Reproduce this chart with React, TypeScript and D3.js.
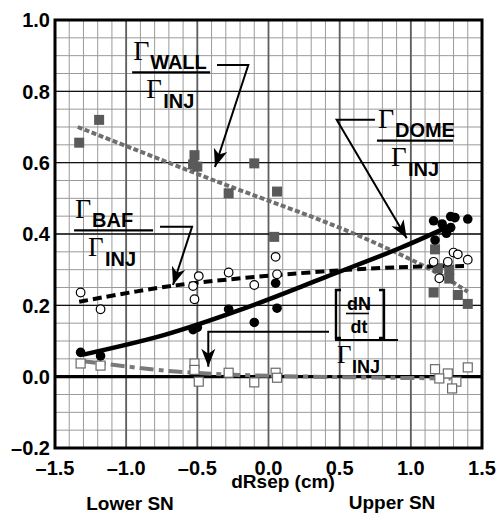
import React from "react";
import * as d3 from "d3";

// values
const wallX = [-1.33, -1.19, -0.52, -0.5, -0.53, -0.28, -0.1, 0.06, 0.04, 1.17, 1.19, 1.27, 1.27, 1.16, 1.33, 1.4];
const wallY = [0.656, 0.72, 0.621, 0.589, 0.595, 0.514, 0.598, 0.519, 0.392, 0.357, 0.304, 0.3, 0.275, 0.236, 0.229, 0.204];

const bafX = [-1.32, -1.18, -0.49, -0.53, -0.52, -0.28, -0.1, 0.05, 0.06, 1.16, 1.3, 1.33, 1.4, 1.26, 1.2];
const bafY = [0.236, 0.189, 0.282, 0.254, 0.217, 0.292, 0.257, 0.336, 0.287, 0.322, 0.348, 0.343, 0.328, 0.322, 0.276];

const domeX = [-1.32, -1.18, -0.53, -0.5, -0.28, -0.1, 0.05, 0.06, 1.16, 1.22, 1.28, 1.31, 1.4, 1.28, 1.25, 1.17];
const domeY = [0.068, 0.058, 0.132, 0.138, 0.189, 0.152, 0.262, 0.192, 0.437, 0.428, 0.449, 0.446, 0.442, 0.418, 0.402, 0.383];

const dndtX = [-1.32, -1.18, -0.52, -0.52, -0.49, -0.28, -0.1, 0.05, 0.06, 1.17, 1.26, 1.4, 1.2, 1.32, 1.29];
const dndtY = [0.037, 0.031, 0.037, 0.019, -0.014, 0.011, -0.016, 0.011, -0.003, 0.021, 0.009, 0.026, -0.005, -0.014, -0.033];

// fitted curves
const wallFitX = [-1.34, -0.38, 0.57, 1.17, 1.4];
const wallFitY = [0.7, 0.55, 0.406, 0.294, 0.238];
const domeFitX = [-1.31, -0.73, -0.2, 0.4, 0.92, 1.26];
const domeFitY = [0.061, 0.117, 0.187, 0.279, 0.36, 0.42];
const bafFitX = [-1.33, -0.67, 0.22, 0.92, 1.4];
const bafFitY = [0.21, 0.255, 0.29, 0.307, 0.31];
const dndtFitX = [-1.31, -0.73, -0.27, 0.3, 1.28];
const dndtFitY = [0.044, 0.017, 0.006, 0.0, -0.005];

const xTicks = [-1.5, -1.0, -0.5, 0.0, 0.5, 1.0, 1.5];
const xTickLabels = ["–1.5", "–1.0", "–0.5", "0.0", "0.5", "1.0", "1.5"];
const yTicks = [-0.2, 0.0, 0.2, 0.4, 0.6, 0.8, 1.0];
const yTickLabels = ["–0.2", "0.0", "0.2", "0.4", "0.6", "0.8", "1.0"];

// annotation pointers in data units: [x, y] polylines ending at the arrow tip
const wallPointer = [[-0.362, 0.874], [-0.142, 0.874], [-0.376, 0.588]];
const domePointer = [[0.748, 0.72], [0.479, 0.72], [0.971, 0.388]];
const bafPointer = [[-0.762, 0.42], [-0.537, 0.42], [-0.671, 0.257]];
const dndtPointer = [[0.425, 0.126], [-0.423, 0.126], [-0.423, 0.028]];

const width = 500;
const height = 527;
const sans = "'Liberation Sans', Arial, Helvetica, sans-serif";
const serif = "'Liberation Serif', 'Times New Roman', serif";

const xScale = d3.scaleLinear().domain([-1.5, 1.5]).range([55, 482]);
const yScale = d3.scaleLinear().domain([-0.2, 1.0]).range([448, 20]);

const zip = (xs: number[], ys: number[]) => xs.map((x, i) => [x, ys[i]] as [number, number]);

const curve = d3
  .line<[number, number]>()
  .x((d) => xScale(d[0]))
  .y((d) => yScale(d[1]))
  .curve(d3.curveCatmullRom.alpha(0.5));

const poly = d3
  .line<number[]>()
  .x((d) => xScale(d[0]))
  .y((d) => yScale(d[1]));

const Arrow = ({ pts }: { pts: number[][] }) => {
  const n = pts.length;
  const tx = xScale(pts[n - 1][0]);
  const ty = yScale(pts[n - 1][1]);
  const px = xScale(pts[n - 2][0]);
  const py = yScale(pts[n - 2][1]);
  const ang = (Math.atan2(ty - py, tx - px) * 180) / Math.PI;
  return (
    <g>
      <path d={poly(pts.slice(0, n - 1).concat([[pts[n - 1][0], pts[n - 1][1]]])) || ""} fill="none" stroke="#000" strokeWidth={2} />
      <path
        d="M0,0 L-18,-7 L-13,0 L-18,7 Z"
        transform={`translate(${tx},${ty}) rotate(${ang})`}
        fill="#000"
      />
    </g>
  );
};

const Fraction = ({ x, y, sub, barLen }: { x: number; y: number; sub: string; barLen: number }) => {
  const px = xScale(x);
  const py = yScale(y);
  return (
    <g>
      <text x={px} y={py} fontFamily={serif} fontSize={28}>Γ</text>
      <text x={px + 17} y={py + 9} fontFamily={sans} fontWeight="bold" fontSize={20}>{sub}</text>
      <line x1={px - 1} x2={px - 1 + barLen} y1={py + 12.5} y2={py + 12.5} stroke="#000" strokeWidth={2.2} />
      <text x={px + 13} y={py + 38} fontFamily={serif} fontSize={27}>Γ</text>
      <text x={px + 30} y={py + 48} fontFamily={sans} fontWeight="bold" fontSize={20}>INJ</text>
    </g>
  );
};

const App = () => {
  const minorX = xScale.ticks(30);
  const minorY = yScale.ticks(24);
  const majorX = xScale.ticks(6);
  const majorY = yScale.ticks(6);
  const [x0, x1] = xScale.range();
  const [y0, y1] = yScale.range();

  // dN/dt bracket anchor
  const bx = xScale(0.467);
  const by = yScale(0.243);

  return (
    <svg
      width={width}
      height={height}
      style={{ position: "absolute", left: 0, top: 0, background: "#fff" }}
    >
      {/* minor grid */}
      <g stroke="#9a9a9a" strokeWidth={1}>
        {minorX.map((t) => (
          <line key={"mx" + t} x1={xScale(t)} x2={xScale(t)} y1={y1} y2={y0} />
        ))}
        {minorY.map((t) => (
          <line key={"my" + t} x1={x0} x2={x1} y1={yScale(t)} y2={yScale(t)} />
        ))}
      </g>
      {/* major grid */}
      <g>
        {majorX.map((t) => (
          <line key={"Mx" + t} x1={xScale(t)} x2={xScale(t)} y1={y1} y2={y0} stroke="#5f5f5f" strokeWidth={1.8} />
        ))}
        {majorY.map((t) => (
          <line key={"My" + t} x1={x0} x2={x1} y1={yScale(t)} y2={yScale(t)} stroke="#111" strokeWidth={1.4} />
        ))}
        <line x1={x0} x2={x1} y1={yScale(0)} y2={yScale(0)} stroke="#000" strokeWidth={3.2} />
      </g>

      {/* fit lines */}
      <path d={curve(zip(wallFitX, wallFitY)) || ""} fill="none" stroke="#6f6f6f" strokeWidth={4} strokeDasharray="5,2.5" />
      <path d={curve(zip(dndtFitX, dndtFitY)) || ""} fill="none" stroke="#7a7a7a" strokeWidth={4} strokeDasharray="14,5,5,5" />
      <path d={curve(zip(bafFitX, bafFitY)) || ""} fill="none" stroke="#000" strokeWidth={4} strokeDasharray="9,5" />
      <path d={curve(zip(domeFitX, domeFitY)) || ""} fill="none" stroke="#000" strokeWidth={4.5} />

      {/* markers */}
      {zip(dndtX, dndtY).map((d, i) => (
        <rect key={"n" + i} x={xScale(d[0]) - 4.5} y={yScale(d[1]) - 4.5} width={9} height={9} fill="#fff" stroke="#6a6a6a" strokeWidth={1.2} />
      ))}
      {zip(wallX, wallY).map((d, i) => (
        <rect key={"w" + i} x={xScale(d[0]) - 5} y={yScale(d[1]) - 5} width={10} height={10} fill="#5a5a5a" />
      ))}
      {zip(bafX, bafY).map((d, i) => (
        <circle key={"b" + i} cx={xScale(d[0])} cy={yScale(d[1])} r={4.3} fill="#fff" stroke="#000" strokeWidth={1.2} />
      ))}
      {zip(domeX, domeY).map((d, i) => (
        <circle key={"d" + i} cx={xScale(d[0])} cy={yScale(d[1])} r={4.8} fill="#000" />
      ))}

      {/* annotations */}
      <Fraction x={-0.951} y={0.888} sub="WALL" barLen={78} />
      <Fraction x={0.769} y={0.697} sub="DOME" barLen={76} />
      <Fraction x={-1.359} y={0.445} sub="BAF" barLen={79} />
      <Arrow pts={wallPointer} />
      <Arrow pts={domePointer} />
      <Arrow pts={bafPointer} />
      <Arrow pts={dndtPointer} />

      <g>
        <path d={`M${bx + 6},${by} H${bx + 1} V${by + 48} H${bx + 6}`} fill="none" stroke="#000" strokeWidth={2.4} />
        <path d={`M${bx + 44},${by} H${bx + 49} V${by + 48} H${bx + 44}`} fill="none" stroke="#000" strokeWidth={2.4} />
        <text x={bx + 24} y={by + 20} textAnchor="middle" fontFamily={sans} fontWeight="bold" fontSize={18}>dN</text>
        <line x1={bx + 11} x2={bx + 34} y1={by + 23.5} y2={by + 23.5} stroke="#000" strokeWidth={1.6} />
        <text x={bx + 24} y={by + 43} textAnchor="middle" fontFamily={sans} fontWeight="bold" fontSize={18}>dt</text>
        <line x1={bx} x2={bx + 63} y1={by + 50} y2={by + 50} stroke="#000" strokeWidth={2.2} />
        <text x={bx + 2} y={by + 73} fontFamily={serif} fontSize={25}>Γ</text>
        <text x={bx + 17} y={by + 83} fontFamily={sans} fontWeight="bold" fontSize={18}>INJ</text>
      </g>

      {/* frame */}
      <rect x={x0} y={y1} width={x1 - x0} height={y0 - y1} fill="none" stroke="#000" strokeWidth={3} />

      {/* tick labels */}
      <g fontFamily={sans} fontWeight="bold" fontSize={20} fill="#000">
        {xTicks.map((t, i) => (
          <text key={"xt" + t} x={xScale(t)} y={475} textAnchor="middle">{xTickLabels[i]}</text>
        ))}
        {yTicks.map((t, i) => (
          <text key={"yt" + t} x={50} y={yScale(t)} dy="0.36em" textAnchor="end">{yTickLabels[i]}</text>
        ))}
      </g>
      <g fontFamily={sans} fontWeight="bold" fontSize={19} fill="#000">
        <text x={283} y={488} textAnchor="middle">dRsep (cm)</text>
        <text x={130} y={510} textAnchor="middle">Lower SN</text>
        <text x={392} y={509} textAnchor="middle">Upper SN</text>
      </g>
    </svg>
  );
};

export default App;
